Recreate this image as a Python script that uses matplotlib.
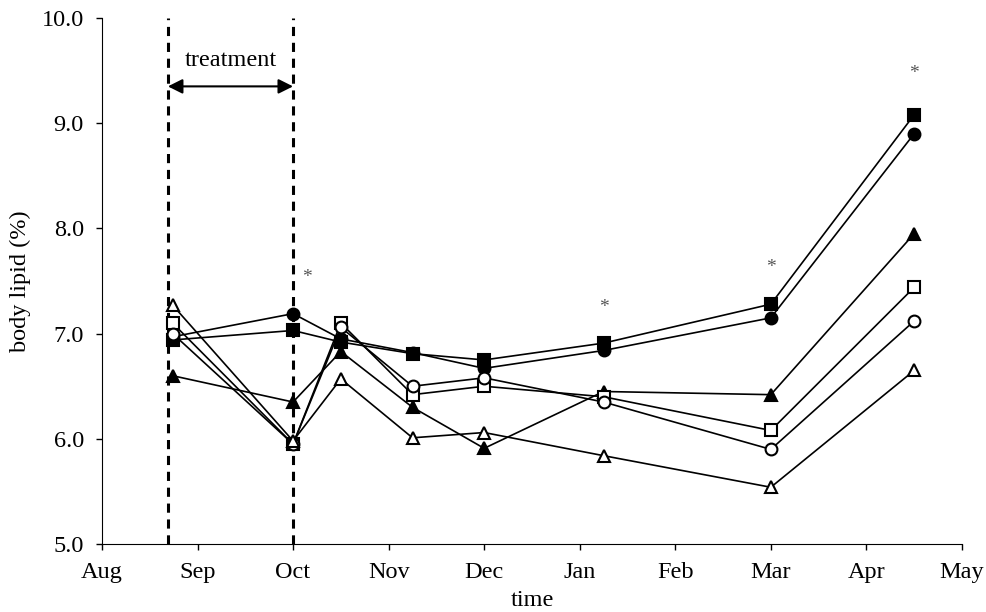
import matplotlib
matplotlib.use("Agg")
import matplotlib.pyplot as plt

plt.rcParams['font.family'] = ['Liberation Serif', 'DejaVu Serif']

# months counted from August (0) to May (9)
months = ['Aug', 'Sep', 'Oct', 'Nov', 'Dec', 'Jan', 'Feb', 'Mar', 'Apr', 'May']
sample_t = [0.74, 2.0, 2.5, 3.25, 4.0, 5.25, 7.0, 8.5]

filled_circle = [6.97, 7.19, 6.95, 6.82, 6.67, 6.84, 7.15, 8.90]
filled_square = [6.94, 7.03, 6.92, 6.81, 6.75, 6.91, 7.28, 9.08]
filled_tri = [6.60, 6.35, 6.83, 6.30, 5.91, 6.45, 6.42, 7.95]
open_square = [7.10, 5.95, 7.10, 6.42, 6.50, 6.40, 6.08, 7.44]
open_circle = [7.00, 5.95, 7.06, 6.50, 6.58, 6.35, 5.90, 7.12]
open_tri = [7.27, 5.98, 6.57, 6.01, 6.06, 5.84, 5.54, 6.65]

treat_start, treat_end = 0.69, 2.0
star_t = [2.15, 5.25, 7.0, 8.5]
star_y = [7.53, 7.25, 7.63, 9.47]

FS = 17.5

fig = plt.figure(figsize=(9.86, 6.12), dpi=100)
ax = fig.add_axes([0.1034, 0.111, 0.8722, 0.8596])

series = [
    (filled_circle, 'o', 'black'),
    (filled_square, 's', 'black'),
    (filled_tri, '^', 'black'),
    (open_square, 's', 'white'),
    (open_circle, 'o', 'white'),
    (open_tri, '^', 'white'),
]
for vals, m, fc in series:
    ax.plot(sample_t, vals, color='black', lw=1.2, marker=m, ms=8.5,
            mfc=fc, mec='black', mew=1.5, zorder=3)

# treatment window
for t in (treat_start, treat_end):
    ax.plot([t, t], [5.0, 10.0], color='black', lw=2.2, ls=(0, (3, 2.2)),
            zorder=2, clip_on=False)
ax.annotate('', xy=(treat_start, 9.35), xytext=(treat_end, 9.35),
            arrowprops=dict(arrowstyle='<|-|>', color='black', lw=1.5,
                            mutation_scale=22, shrinkA=0, shrinkB=0))
ax.text((treat_start + treat_end) / 2, 9.60, 'treatment', ha='center',
        va='center', fontsize=FS)

for t, y in zip(star_t, star_y):
    ax.text(t, y, '*', ha='center', va='center', fontsize=14, color='#555555')

ax.set_xlim(0, 9)
ax.set_ylim(5.0, 10.0)
ax.set_xticks(range(len(months)))
ax.set_xticklabels(months)
ax.set_yticks([5, 6, 7, 8, 9, 10])
ax.set_yticklabels(['5.0', '6.0', '7.0', '8.0', '9.0', '10.0'])
ax.tick_params(direction='out', length=4, width=1, labelsize=FS)
ax.tick_params(axis='x', pad=9)
ax.tick_params(axis='y', pad=9)
ax.spines['top'].set_visible(False)
ax.spines['right'].set_visible(False)
ax.set_xlabel('time', fontsize=FS, labelpad=5)
ax.set_ylabel('body lipid (%)', fontsize=FS, labelpad=8)

fig.savefig('out.png', dpi=100)
